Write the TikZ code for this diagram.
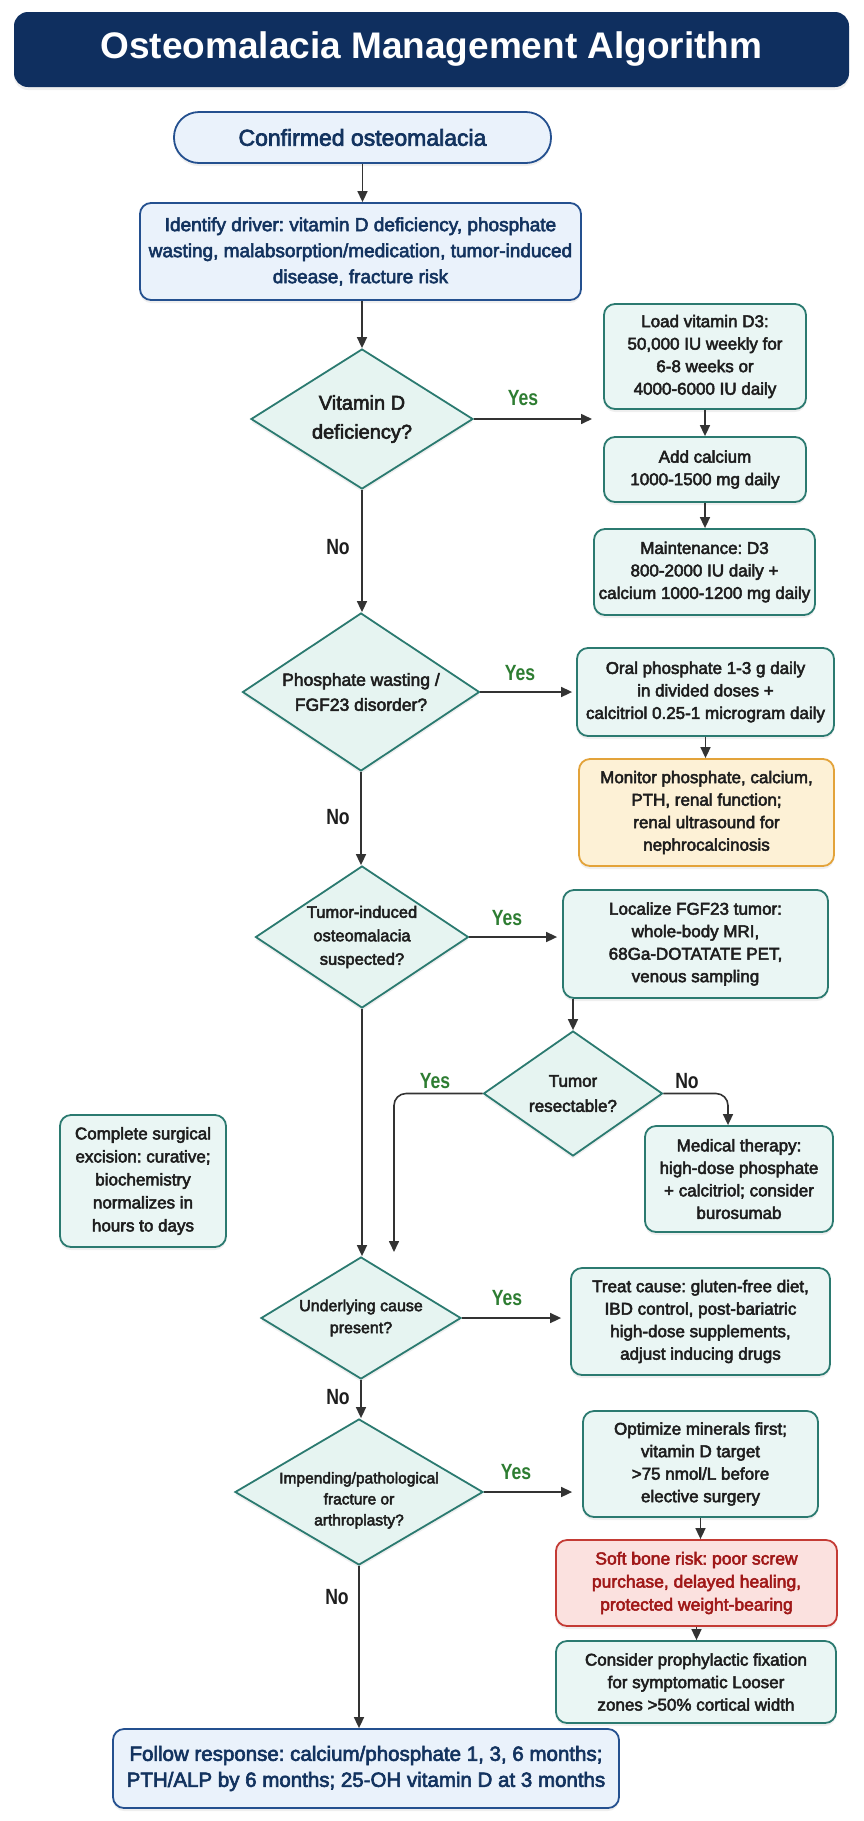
\documentclass[tikz,border=0pt]{standalone}
\usepackage{fontspec}
\setmainfont{Liberation Sans}[FakeBold=3]
\newfontfamily\titlefont{Liberation Sans}
\newfontfamily\lblfont{Liberation Sans}[FakeStretch=0.8]
\usetikzlibrary{shapes.geometric,arrows.meta,shadows,calc}
\definecolor{navy}{HTML}{0F2F5F}
\definecolor{bborder}{HTML}{24508F}
\definecolor{bfill}{HTML}{EAF2FB}
\definecolor{btext}{HTML}{13335F}
\definecolor{teal}{HTML}{2B7A70}
\definecolor{tfill}{HTML}{EAF6F4}
\definecolor{dfill}{HTML}{E6F4F1}
\definecolor{oborder}{HTML}{E3A33A}
\definecolor{ofill}{HTML}{FDF1D6}
\definecolor{rborder}{HTML}{C43B35}
\definecolor{rfill}{HTML}{FBE1DF}
\definecolor{rtext}{HTML}{A01818}
\definecolor{yesgreen}{HTML}{2E7D32}
\definecolor{arrowc}{HTML}{333333}
\definecolor{dtext}{HTML}{1E1E1E}
\tikzset{
  sz/.style 2 args={minimum width=#1pt, minimum height=#2pt},
  dsz/.style n args={3}{minimum width=#1pt, minimum height=#2pt, aspect=#3},
  shad/.style={drop shadow={shadow xshift=0pt, shadow yshift=-3pt, opacity=0.12}},
  boxbase/.style={shad, line width=1.8pt, rounded corners=11pt, align=center, inner sep=0pt,
    font=\fontsize{17}{22.5}\selectfont},
  tbox/.style={boxbase, draw=teal, fill=tfill, text=dtext},
  bbox/.style={boxbase, draw=bborder, fill=bfill, text=btext},
  obox/.style={boxbase, draw=oborder, fill=ofill, text=dtext},
  rbox/.style={boxbase, draw=rborder, fill=rfill, text=rtext},
  dec/.style={diamond, shad, draw=teal, fill=dfill, line width=1.8pt, align=center, inner sep=-8pt, text=dtext},
  arr/.style={draw=arrowc, line width=1.6pt, -{Triangle[length=11pt,width=10pt]}},
  yeslbl/.style={text=yesgreen, font=\lblfont\bfseries\fontsize{22}{24}\selectfont, inner sep=0pt},
  nolbl/.style={text=dtext, font=\lblfont\bfseries\fontsize{22}{24}\selectfont, inner sep=0pt},
}
\begin{document}
\frenchspacing
\begin{tikzpicture}[x=1pt,y=-1pt]
\useasboundingbox (0,0) rectangle (864,1821);
\fill[white] (0,0) rectangle (864,1821);

% title
\node[shad, fill=navy, rounded corners=14pt, sz={835}{75}, inner sep=0pt, text=white,
  font=\titlefont\bfseries\fontsize{37}{40}\selectfont] (title) at (431.5,49.5) {Osteomalacia Management Algorithm};

% main column
\node[bbox, rounded corners=25pt, sz={377}{51}, font=\fontsize{23}{26}\selectfont] (start) at (362.5,137.5) {Confirmed osteomalacia};
\node[bbox, sz={441}{97}, font=\fontsize{19}{26}\selectfont] (ident) at (360.5,251.5)
  {Identify driver: vitamin D deficiency, phosphate\\wasting, malabsorption/medication, tumor-induced\\disease, fracture risk};
\node[dec, dsz={222}{140}{1.586}, font=\fontsize{20}{29}\selectfont] (d1) at (362,419) {Vitamin D\\deficiency?};
\node[dec, dsz={237}{158}{1.5}, font=\fontsize{17.5}{25}\selectfont] (d2) at (361,692) {Phosphate wasting /\\FGF23 disorder?};
\node[dec, dsz={213}{142}{1.5}, font=\fontsize{16.5}{23.5}\selectfont] (d3) at (362,937) {Tumor-induced\\osteomalacia\\suspected?};
\node[dec, dsz={179}{125}{1.432}, font=\fontsize{17}{25}\selectfont] (d4) at (573,1093.5) {Tumor\\resectable?};
\node[dec, dsz={200}{122}{1.639}, font=\fontsize{16}{22}\selectfont] (d5) at (361,1318) {Underlying cause\\present?};
\node[dec, dsz={248}{146}{1.699}, font=\fontsize{15.5}{21}\selectfont] (d6) at (359,1492) {\rule{0pt}{28pt}Impending/pathological\\fracture or\\arthroplasty?};
\node[bbox, sz={506}{79}, font=\fontsize{20.5}{26}\selectfont] (follow) at (366,1768.5)
  {Follow response: calcium/phosphate 1, 3, 6 months;\\PTH/ALP by 6 months; 25-OH vitamin D at 3 months};

% right column
\node[tbox, sz={202}{105}] (load) at (705,356.5) {Load vitamin D3:\\50,000 IU weekly for\\6-8 weeks or\\4000-6000 IU daily};
\node[tbox, sz={202}{65}] (add) at (705,469.5) {Add calcium\\1000-1500 mg daily};
\node[tbox, sz={221}{86}] (maint) at (704.5,572) {Maintenance: D3\\800-2000 IU daily +\\calcium 1000-1200 mg daily};
\node[tbox, sz={257}{88}] (oral) at (705.5,692) {Oral phosphate 1-3 g daily\\in divided doses +\\calcitriol 0.25-1 microgram daily};
\node[obox, sz={255}{107}] (monitor) at (706.5,812.5) {Monitor phosphate, calcium,\\PTH, renal function;\\renal ultrasound for\\nephrocalcinosis};
\node[tbox, sz={265}{108}] (loc) at (695.5,944) {Localize FGF23 tumor:\\whole-body MRI,\\68Ga-DOTATATE PET,\\venous sampling};
\node[tbox, sz={188}{106}] (med) at (739,1179) {Medical therapy:\\high-dose phosphate\\+ calcitriol; consider\\burosumab};
\node[tbox, sz={166}{132}, font=\fontsize{17}{23}\selectfont] (comp) at (143,1181) {Complete surgical\\excision: curative;\\biochemistry\\normalizes in\\hours to days};
\node[tbox, sz={259}{107}] (treat) at (700.5,1321.5) {Treat cause: gluten-free diet,\\IBD control, post-bariatric\\high-dose supplements,\\adjust inducing drugs};
\node[tbox, sz={235}{106}] (opt) at (700.5,1464) {Optimize minerals first;\\vitamin D target\\>75 nmol/L before\\elective surgery};
\node[rbox, sz={281}{86}, font=\fontsize{17.5}{23}\selectfont] (soft) at (696.5,1583) {Soft bone risk: poor screw\\purchase, delayed healing,\\protected weight-bearing};
\node[tbox, sz={280}{82}] (consider) at (696,1682) {Consider prophylactic fixation\\for symptomatic Looser\\zones >50\% cortical width};

% free ends
\coordinate (y1end) at (592,419);
\coordinate (y4end) at (394,1252);
\coordinate (n4end) at ($(med.north)+(-11,0)$);

% connectors
\draw[arr] (start.south) -- (start.south |- ident.north);
\draw[arr] (d1.north |- ident.south) -- (d1.north);
\draw[arr] (d1.east) -- (y1end);
\draw[arr] (load.south) -- (add.north);
\draw[arr] (add.south) -- (add.south |- maint.north);
\draw[arr] (d1.south) -- (d1.south |- d2.north);
\draw[arr, shorten >=4pt] (d2.east) -- (d2.east -| oral.west);
\draw[arr] (oral.south) -- (oral.south |- monitor.north);
\draw[arr] (d2.south) -- (d2.south |- d3.north);
\draw[arr, shorten >=5pt] (d3.east) -- (d3.east -| loc.west);
\draw[arr] (d4.north |- loc.south) -- (d4.north);
\draw[arr, rounded corners=12pt] (d4.west) -| (y4end);
\draw[arr, rounded corners=12pt] (d4.east) -| (n4end);
\draw[arr] (d3.south) -- (d3.south |- d5.north);
\draw[arr, shorten >=9pt] (d5.east) -- (d5.east -| treat.west);
\draw[arr] (d5.south) -- (d5.south |- d6.north);
\draw[arr, shorten >=10pt] (d6.east) -- (d6.east -| opt.west);
\draw[arr] (opt.south) -- (opt.south |- soft.north);
\draw[arr] (soft.south) -- (soft.south |- consider.north);
\draw[arr] (d6.south) -- (d6.south |- follow.north);

% labels
\node[yeslbl] (ly1) at (523,398) {Yes};
\node[nolbl] (ln1) at (338,547) {No};
\node[yeslbl] (ly2) at (520,673) {Yes};
\node[nolbl] (ln2) at (338,817) {No};
\node[yeslbl] (ly3) at (507,918) {Yes};
\node[yeslbl] (ly4) at (435,1081) {Yes};
\node[nolbl] (ln4) at (687,1081) {No};
\node[yeslbl] (ly5) at (507,1298) {Yes};
\node[nolbl] (ln5) at (338,1397) {No};
\node[yeslbl] (ly6) at (516,1472) {Yes};
\node[nolbl] (ln6) at (337,1597) {No};
\end{tikzpicture}
\end{document}
